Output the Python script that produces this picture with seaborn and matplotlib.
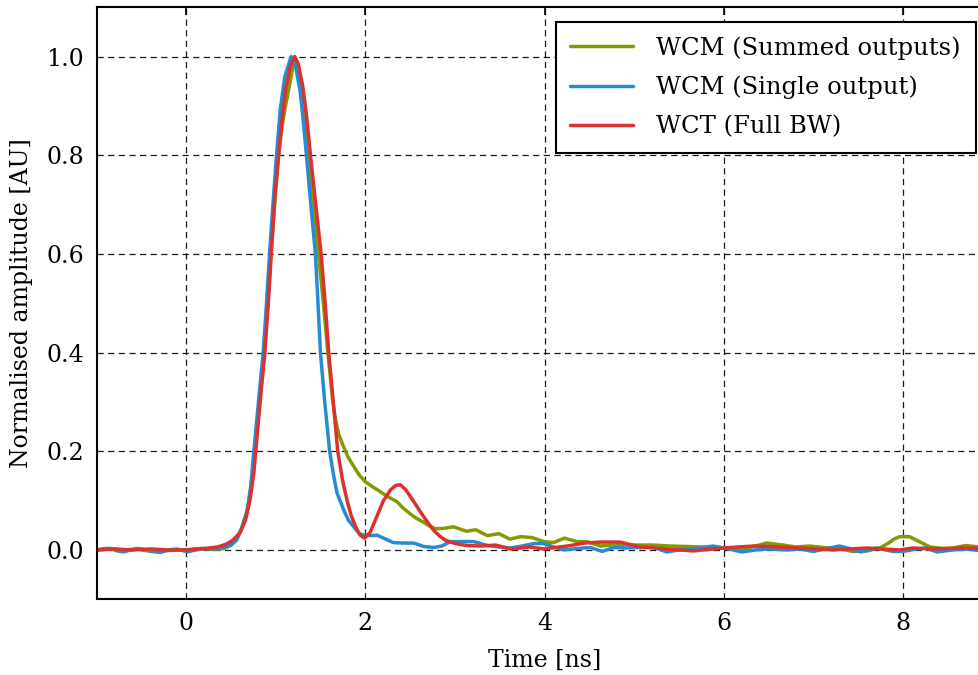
import numpy as np
import pandas as pd
import matplotlib
matplotlib.use("Agg")
import matplotlib.pyplot as plt
import seaborn as sns

# Wall current monitor / transformer pulse responses (time in ns, amplitude normalised)
summed_t = [-1.0, -0.85, -0.7, -0.55, -0.4, -0.25, -0.1, 0.05, 0.16, 0.3, 0.42, 0.5, 0.56,
            0.62, 0.68, 0.72, 0.76, 0.81, 0.87, 0.91, 0.945, 0.985, 1.03, 1.07, 1.107,
            1.15, 1.21, 1.25, 1.30, 1.36, 1.42, 1.475, 1.53, 1.58, 1.63, 1.66, 1.70, 1.74,
            1.80, 1.87, 1.93, 2.0, 2.08, 2.166, 2.25, 2.35, 2.42, 2.50, 2.57, 2.65, 2.72,
            2.78, 2.88, 2.98, 3.06, 3.13, 3.23, 3.36, 3.49, 3.61, 3.73, 3.86, 3.99, 4.10,
            4.22, 4.36, 4.47, 4.62, 4.8, 5.03, 5.2, 5.4, 5.6, 5.88, 6.05, 6.18, 6.35, 6.48,
            6.66, 6.8, 6.96, 7.1, 7.28, 7.44, 7.6, 7.75, 7.82, 7.9, 7.96, 8.07, 8.18, 8.3,
            8.45, 8.55, 8.7, 8.85, 9.0]
summed_v = [0.0, 0.002, 0.0, 0.002, -0.003, -0.002, 0.0, 0.001, 0.003, 0.001, 0.003, 0.01,
            0.02, 0.045, 0.08, 0.125, 0.195, 0.28, 0.4, 0.5, 0.6, 0.7, 0.8, 0.86, 0.9,
            0.94, 1.0, 0.98, 0.925, 0.8, 0.7, 0.6, 0.5, 0.4, 0.31, 0.27, 0.235, 0.216,
            0.19, 0.169, 0.152, 0.138, 0.128, 0.118, 0.108, 0.098, 0.085, 0.073, 0.064,
            0.056, 0.048, 0.043, 0.044, 0.047, 0.042, 0.038, 0.041, 0.029, 0.033, 0.022,
            0.027, 0.025, 0.017, 0.015, 0.024, 0.017, 0.017, 0.008, 0.011, 0.01, 0.01,
            0.008, 0.007, 0.005, 0.004, 0.0, 0.008, 0.014, 0.01, 0.006, 0.008, 0.005,
            0.003, -0.003, -0.002, 0.005, 0.012, 0.022, 0.027, 0.027, 0.017, 0.006, 0.003,
            0.004, 0.009, 0.006, 0.006]

single_t = [-1.0, -0.92, -0.84, -0.77, -0.70, -0.62, -0.55, -0.46, -0.38, -0.29, -0.2, -0.1,
            0.01, 0.1, 0.2, 0.3, 0.4, 0.5, 0.56, 0.62, 0.68, 0.72, 0.754, 0.80, 0.858,
            0.895, 0.929, 0.967, 1.007, 1.05, 1.10, 1.17, 1.22, 1.27, 1.30, 1.341, 1.39,
            1.441, 1.47, 1.497, 1.545, 1.60, 1.65, 1.683, 1.757, 1.81, 1.87, 1.93, 1.98,
            2.05, 2.13, 2.2, 2.31, 2.42, 2.54, 2.65, 2.76, 2.85, 2.95, 3.08, 3.21, 3.36,
            3.5, 3.62, 3.75, 3.88, 3.99, 4.1, 4.21, 4.36, 4.51, 4.64, 4.77, 4.9, 5.05,
            5.21, 5.36, 5.5, 5.7, 5.88, 6.03, 6.2, 6.35, 6.48, 6.7, 6.85, 7.0, 7.15, 7.29,
            7.42, 7.53, 7.7, 7.89, 8.0, 8.15, 8.25, 8.38, 8.55, 8.7, 8.85, 9.0]
single_v = [0.0, 0.003, 0.003, -0.002, -0.004, 0.0, 0.003, 0.001, -0.003, -0.005, 0.0, 0.002,
            -0.004, 0.0, 0.003, 0.002, 0.004, 0.01, 0.02, 0.045, 0.08, 0.13, 0.2, 0.29,
            0.4, 0.5, 0.6, 0.7, 0.8, 0.895, 0.96, 1.0, 0.98, 0.93, 0.88, 0.8, 0.7, 0.6,
            0.5, 0.4, 0.3, 0.2, 0.145, 0.115, 0.081, 0.06, 0.047, 0.033, 0.03, 0.029, 0.03,
            0.024, 0.015, 0.014, 0.014, 0.007, 0.005, 0.008, 0.017, 0.017, 0.017, 0.009,
            0.006, 0.004, 0.008, 0.013, 0.013, 0.006, 0.0, 0.003, 0.005, -0.003, 0.005,
            0.004, 0.005, 0.006, -0.004, 0.0, 0.003, 0.008, 0.003, -0.004, 0.0, 0.002, 0.0,
            0.002, -0.003, 0.003, 0.008, 0.002, -0.004, 0.004, -0.003, -0.003, 0.002,
            0.004, -0.004, 0.0, 0.002, -0.001, 0.002]

wct_t = [-1.0, -0.8, -0.6, -0.4, -0.2, 0.0, 0.2, 0.35, 0.45, 0.52, 0.6, 0.66, 0.71, 0.754,
         0.82, 0.877, 0.915, 0.948, 0.99, 1.03, 1.07, 1.11, 1.16, 1.21, 1.25, 1.30, 1.345,
         1.386, 1.445, 1.505, 1.55, 1.59, 1.64, 1.69, 1.745, 1.795, 1.84, 1.89, 1.94, 1.99,
         2.05, 2.12, 2.20, 2.28, 2.34, 2.39, 2.45, 2.52, 2.575, 2.61, 2.69, 2.76, 2.835,
         2.89, 3.0, 3.13, 3.3, 3.45, 3.62, 3.84, 3.99, 4.25, 4.45, 4.62, 4.84, 5.07, 5.36,
         5.66, 5.88, 6.07, 6.33, 6.48, 6.74, 7.03, 7.22, 7.59, 7.96, 8.11, 8.33, 8.7, 9.0]
wct_v = [0.0, 0.002, 0.0, 0.002, 0.0, 0.0, 0.003, 0.006, 0.012, 0.02, 0.035, 0.06, 0.1,
         0.156, 0.293, 0.4, 0.5, 0.6, 0.72, 0.8, 0.875, 0.935, 0.98, 1.0, 0.985, 0.94,
         0.875, 0.8, 0.7, 0.6, 0.5, 0.4, 0.3, 0.2, 0.14, 0.10, 0.07, 0.047, 0.03, 0.024,
         0.035, 0.065, 0.10, 0.122, 0.131, 0.132, 0.122, 0.103, 0.088, 0.078, 0.057, 0.04,
         0.027, 0.02, 0.013, 0.009, 0.008, 0.01, 0.002, 0.006, 0.002, 0.008, 0.014, 0.016,
         0.016, 0.006, 0.002, -0.002, 0.002, 0.005, 0.008, 0.007, 0.005, 0.002, 0.0, 0.004,
         0.0, 0.004, 0.002, 0.004, 0.003]

labels = ["WCM (Summed outputs)", "WCM (Single output)", "WCT (Full BW)"]
colors = ["#859900", "#268bd2", "#dc322f"]
x_ticks = [0, 2, 4, 6, 8]
y_ticks = [0.0, 0.2, 0.4, 0.6, 0.8, 1.0]

frames = []
for lab, t, v in zip(labels, [summed_t, single_t, wct_t], [summed_v, single_v, wct_v]):
    frames.append(pd.DataFrame({"t": t, "v": v, "series": lab}))
df = pd.concat(frames, ignore_index=True)

sns.set_style("white")
plt.rcParams["font.family"] = ["DejaVu Serif"]
plt.rcParams["font.size"] = 17
plt.rcParams["text.color"] = "black"
plt.rcParams["axes.labelcolor"] = "black"
plt.rcParams["xtick.color"] = "black"
plt.rcParams["ytick.color"] = "black"

fig = plt.figure(figsize=(9.79, 6.75), dpi=100)
ax = fig.add_axes([96.7 / 979, 75.7 / 675, (992.7 - 96.7) / 979, 592.0 / 675])

sns.lineplot(data=df, x="t", y="v", hue="series", hue_order=labels,
             palette=colors, estimator=None, sort=True, linewidth=2.5,
             legend=False, ax=ax)

ax.set_xlim(-1, 9)
ax.set_ylim(-0.1, 1.1)
ax.set_xticks(x_ticks)
ax.set_xticklabels([str(v) for v in x_ticks])
ax.set_yticks(y_ticks)
ax.set_yticklabels([f"{v:.1f}" for v in y_ticks])
ax.set_xlabel("Time [ns]", labelpad=10, color="black")
ax.set_ylabel("Normalised amplitude [AU]", labelpad=10, color="black")

ax.tick_params(direction="in", length=6, width=1.2, top=True, right=True,
               pad=9, colors="black", labelsize=17)
for s in ax.spines.values():
    s.set_color("black")
    s.set_linewidth(1.5)

ax.grid(True, color="black", linestyle=(0, (5, 3.5)), linewidth=0.9, alpha=0.9)

handles = [plt.Line2D([], [], color=c, linewidth=2.5) for c in colors]
leg = fig.legend(handles, labels, loc="upper right",
                 bbox_to_anchor=(975.5 / 979, 1 - 21.5 / 675), borderaxespad=0,
                 fancybox=False, framealpha=1, edgecolor="black",
                 handlelength=2.6, handletextpad=0.95, labelspacing=0.66,
                 borderpad=0.6, fontsize=17.5)
leg.get_frame().set_linewidth(1.5)
for txt in leg.get_texts():
    txt.set_color("black")

fig.savefig("out.png", dpi=100)
